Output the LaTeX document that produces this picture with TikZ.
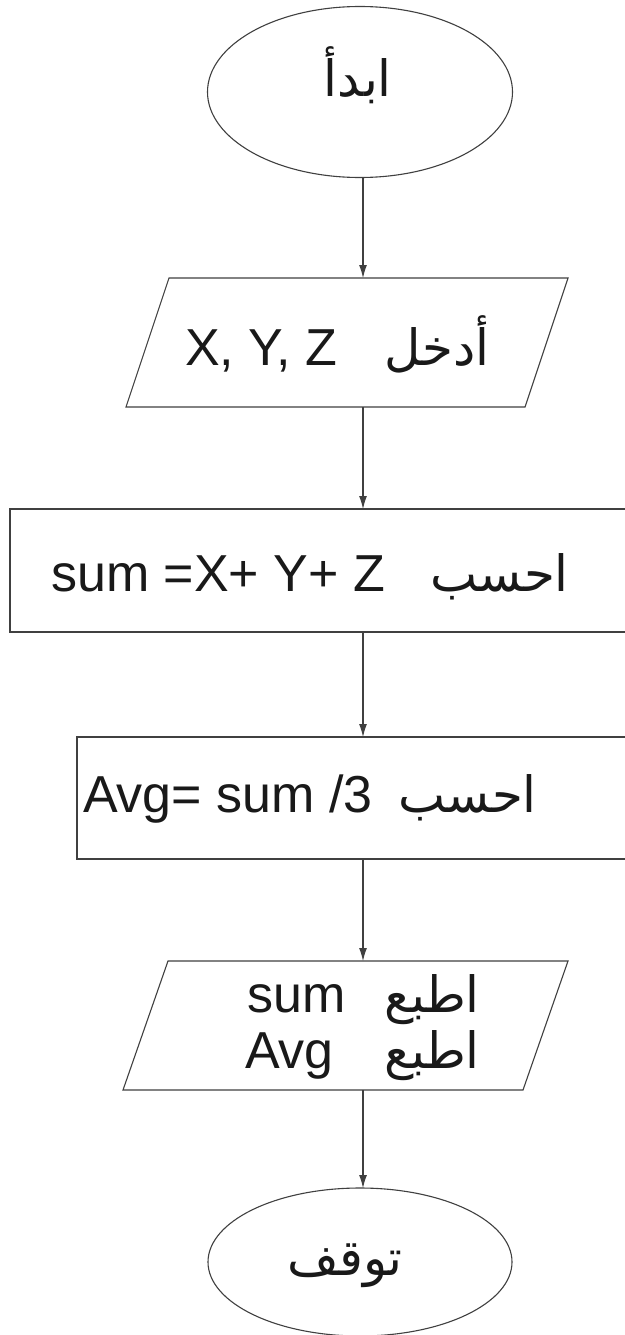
\documentclass[tikz,border=0pt]{standalone}
\usepackage{fontspec}
\setmainfont{Liberation Sans}
\newfontfamily\ar[Script=Arabic]{DejaVu Sans}
\TeXXeTstate=1
\usetikzlibrary{shapes.geometric,arrows.meta}
\begin{document}
\begin{tikzpicture}[x=1pt,y=-1pt,
  shp/.style={draw=black!75, line width=1.1pt, inner sep=0pt, outer sep=0pt},
  term/.style={shp, ellipse},
  iobox/.style={rectangle, inner sep=0pt, outer sep=0pt},
  proc/.style={shp, rectangle},
  lat/.style={inner sep=0pt, anchor=base west, font=\fontsize{52}{56}\selectfont, text=black!90},
  arb/.style={inner sep=0pt, anchor=base east, font=\fontsize{50}{56}\selectfont\ar, text=black!90},
  flow/.style={draw=black!75, line width=1.1pt, -{Latex[length=13pt,width=8pt]}}
]
\useasboundingbox (0,0) rectangle (624,1335);
\fill[white] (0,0) rectangle (624,1335);
% shapes
\node[term, minimum width=305pt, minimum height=171pt] (start) at (360,92) {};
\node[iobox, minimum width=442pt, minimum height=129pt] (in) at (347,342.5) {};
\draw[shp] (in.south west) -- ([xshift=43pt]in.north west) -- (in.north east) -- ([xshift=-43pt]in.south east) -- cycle;
\node[proc, minimum width=620pt, minimum height=123pt, anchor=north west] (calc1) at (10,509) {};
\node[proc, minimum width=560pt, minimum height=122pt, anchor=north west] (calc2) at (77,737) {};
\node[iobox, minimum width=445pt, minimum height=129pt] (out) at (345.5,1025.5) {};
\draw[shp] (out.south west) -- ([xshift=45pt]out.north west) -- (out.north east) -- ([xshift=-45pt]out.south east) -- cycle;
\node[term, minimum width=304pt, minimum height=148pt] (stop) at (360,1262) {};
% connectors
\coordinate (ax) at (363,0);
\draw[flow] (start.south -| ax) -- (in.north -| ax);
\draw[flow] (in.south -| ax) -- (calc1.north -| ax);
\draw[flow] (calc1.south -| ax) -- (calc2.north -| ax);
\draw[flow] (calc2.south -| ax) -- (out.north -| ax);
\draw[flow] (out.south -| ax) -- (stop.north -| ax);
% texts
\node[arb] (t0) at (392,97) {\beginR ابدأ\endR};
\node[lat] (t1a) at (185,365) {X, Y, Z};
\node[arb] (t1b) at (490,365) {\beginR أدخل\endR};
\node[lat] (t2a) at (51,591) {sum =X+ Y+ Z};
\node[arb] (t2b) at (569,591) {\beginR احسب\endR};
\node[lat] (t3a) at (83,812) {Avg= sum /3};
\node[arb] (t3b) at (537,812) {\beginR احسب\endR};
\node[lat] (t4a) at (247,1012) {sum};
\node[arb] (t4b) at (480,1012) {\beginR اطبع\endR};
\node[lat] (t5a) at (245,1068) {Avg};
\node[arb] (t5b) at (480,1068) {\beginR اطبع\endR};
\node[arb] (t6) at (403,1275) {\beginR توقف\endR};
\end{tikzpicture}
\end{document}
